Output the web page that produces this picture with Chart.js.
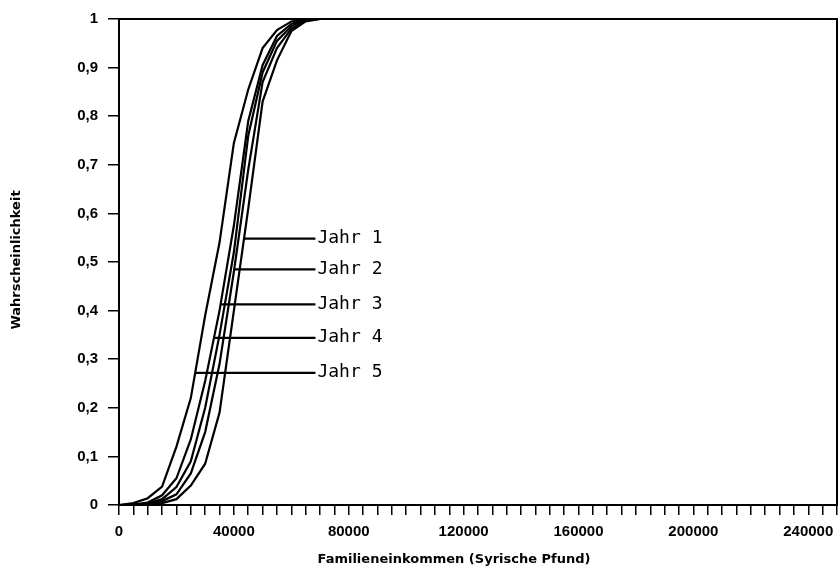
<!DOCTYPE html>
<html>
<head>
<meta charset="utf-8">
<script src="https://cdn.jsdelivr.net/npm/chart.js@4"></script>
<style>
  html, body { margin: 0; padding: 0; background: #fff; overflow: hidden; }
  canvas { display: block; }
</style>
</head>
<body>
<canvas id="chart" width="839" height="570"></canvas>
<script>
// Einkommen (Syrische Pfund), Stützstellen der Kurven
var einkommen = [0, 5000, 10000, 15000, 20000, 25000, 30000, 35000, 40000, 45000, 50000, 55000, 60000, 65000, 70000];

// Verteilungsfunktionen
var jahr1 = [0, 0, 0.001, 0.004, 0.012, 0.04, 0.085, 0.19, 0.40, 0.61, 0.83, 0.915, 0.975, 0.995, 1];
var jahr2 = [0, 0, 0.002, 0.008, 0.022, 0.065, 0.15, 0.29, 0.48, 0.69, 0.87, 0.94, 0.98, 0.997, 1];
var jahr3 = [0, 0.001, 0.003, 0.012, 0.037, 0.09, 0.20, 0.35, 0.52, 0.76, 0.89, 0.955, 0.985, 1, 1];
var jahr4 = [0, 0.001, 0.005, 0.02, 0.055, 0.135, 0.255, 0.40, 0.575, 0.79, 0.905, 0.965, 0.99, 1, 1];
var jahr5 = [0, 0.004, 0.014, 0.038, 0.12, 0.22, 0.39, 0.54, 0.745, 0.855, 0.94, 0.977, 0.995, 1, 1];

// Beschriftungslinien: Start auf der Kurve, Ende vor dem Text
var labelTexte = ['Jahr 1', 'Jahr 2', 'Jahr 3', 'Jahr 4', 'Jahr 5'];
var labelHoehe = [0.548, 0.485, 0.413, 0.344, 0.272];
var labelStart = [43500, 39800, 35600, 33400, 26400];
var labelEnde = 68400;

var xTicks = [0, 40000, 80000, 120000, 160000, 200000, 240000];

function punkte(werte) {
  return einkommen.map(function (e, i) { return { x: e, y: werte[i] }; });
}

var datasets = [jahr1, jahr2, jahr3, jahr4, jahr5].map(function (s, i) {
  return { label: labelTexte[i], data: punkte(s), borderColor: '#000', borderWidth: 2.2, pointRadius: 0, tension: 0, fill: false };
});

labelTexte.forEach(function (t, i) {
  datasets.push({
    label: t + ' Linie',
    data: [{ x: labelStart[i], y: labelHoehe[i] }, { x: labelEnde, y: labelHoehe[i] }],
    borderColor: '#000', borderWidth: 2.2, pointRadius: 0, fill: false
  });
});

var rahmen = {
  id: 'rahmen',
  afterDraw: function (chart) {
    var ctx = chart.ctx, a = chart.chartArea;
    var x = chart.scales.x, y = chart.scales.y;
    ctx.save();
    ctx.strokeStyle = '#000';
    ctx.lineWidth = 2;
    ctx.strokeRect(a.left, a.top, a.right - a.left, a.bottom - a.top);

    // Beschriftung der Jahre
    ctx.fillStyle = '#000';
    ctx.font = '18px "DejaVu Sans Mono"';
    ctx.textBaseline = 'middle';
    ctx.textAlign = 'left';
    labelTexte.forEach(function (t, i) {
      ctx.fillText(t, x.getPixelForValue(labelEnde) + 2, y.getPixelForValue(labelHoehe[i]));
    });

    // Achsentitel
    ctx.font = 'bold 13px "DejaVu Sans"';
    ctx.textAlign = 'center';
    ctx.fillText('Familieneinkommen (Syrische Pfund)', 454, 560);
    ctx.translate(17, 260);
    ctx.rotate(-Math.PI / 2);
    ctx.fillText('Wahrscheinlichkeit', 0, 0);
    ctx.restore();
  }
};

new Chart(document.getElementById('chart'), {
  type: 'line',
  data: { datasets: datasets },
  plugins: [rahmen],
  options: {
    responsive: false,
    animation: false,
    layout: { padding: { left: 0, top: 16, right: 2, bottom: 0 } },
    plugins: { legend: { display: false }, tooltip: { enabled: false } },
    scales: {
      x: {
        type: 'linear', min: 0, max: 250000,
        afterFit: function (s) { s.height = 65; s.paddingLeft = 0; s.paddingRight = 0; },
        grid: { drawOnChartArea: false, tickLength: 10, color: '#000', lineWidth: 1.5 },
        border: { display: true, color: '#000', width: 2 },
        ticks: {
          stepSize: 5000, autoSkip: false, maxRotation: 0, padding: 8,
          color: '#000', font: { family: 'Liberation Sans', weight: 'bold', size: 15 },
          callback: function (v) { return xTicks.indexOf(v) !== -1 ? String(v) : ''; }
        }
      },
      y: {
        min: 0, max: 1,
        afterFit: function (s) { s.width = 119; },
        grid: { drawOnChartArea: false, tickLength: 11, color: '#000', lineWidth: 1.5 },
        border: { display: true, color: '#000', width: 2 },
        ticks: {
          stepSize: 0.1, padding: 10, color: '#000',
          font: { family: 'Liberation Sans', weight: 'bold', size: 15 },
          callback: function (v) {
            if (v === 0 || v === 1) return String(v);
            return v.toFixed(1).replace('.', ',');
          }
        }
      }
    }
  }
});
</script>
</body>
</html>
